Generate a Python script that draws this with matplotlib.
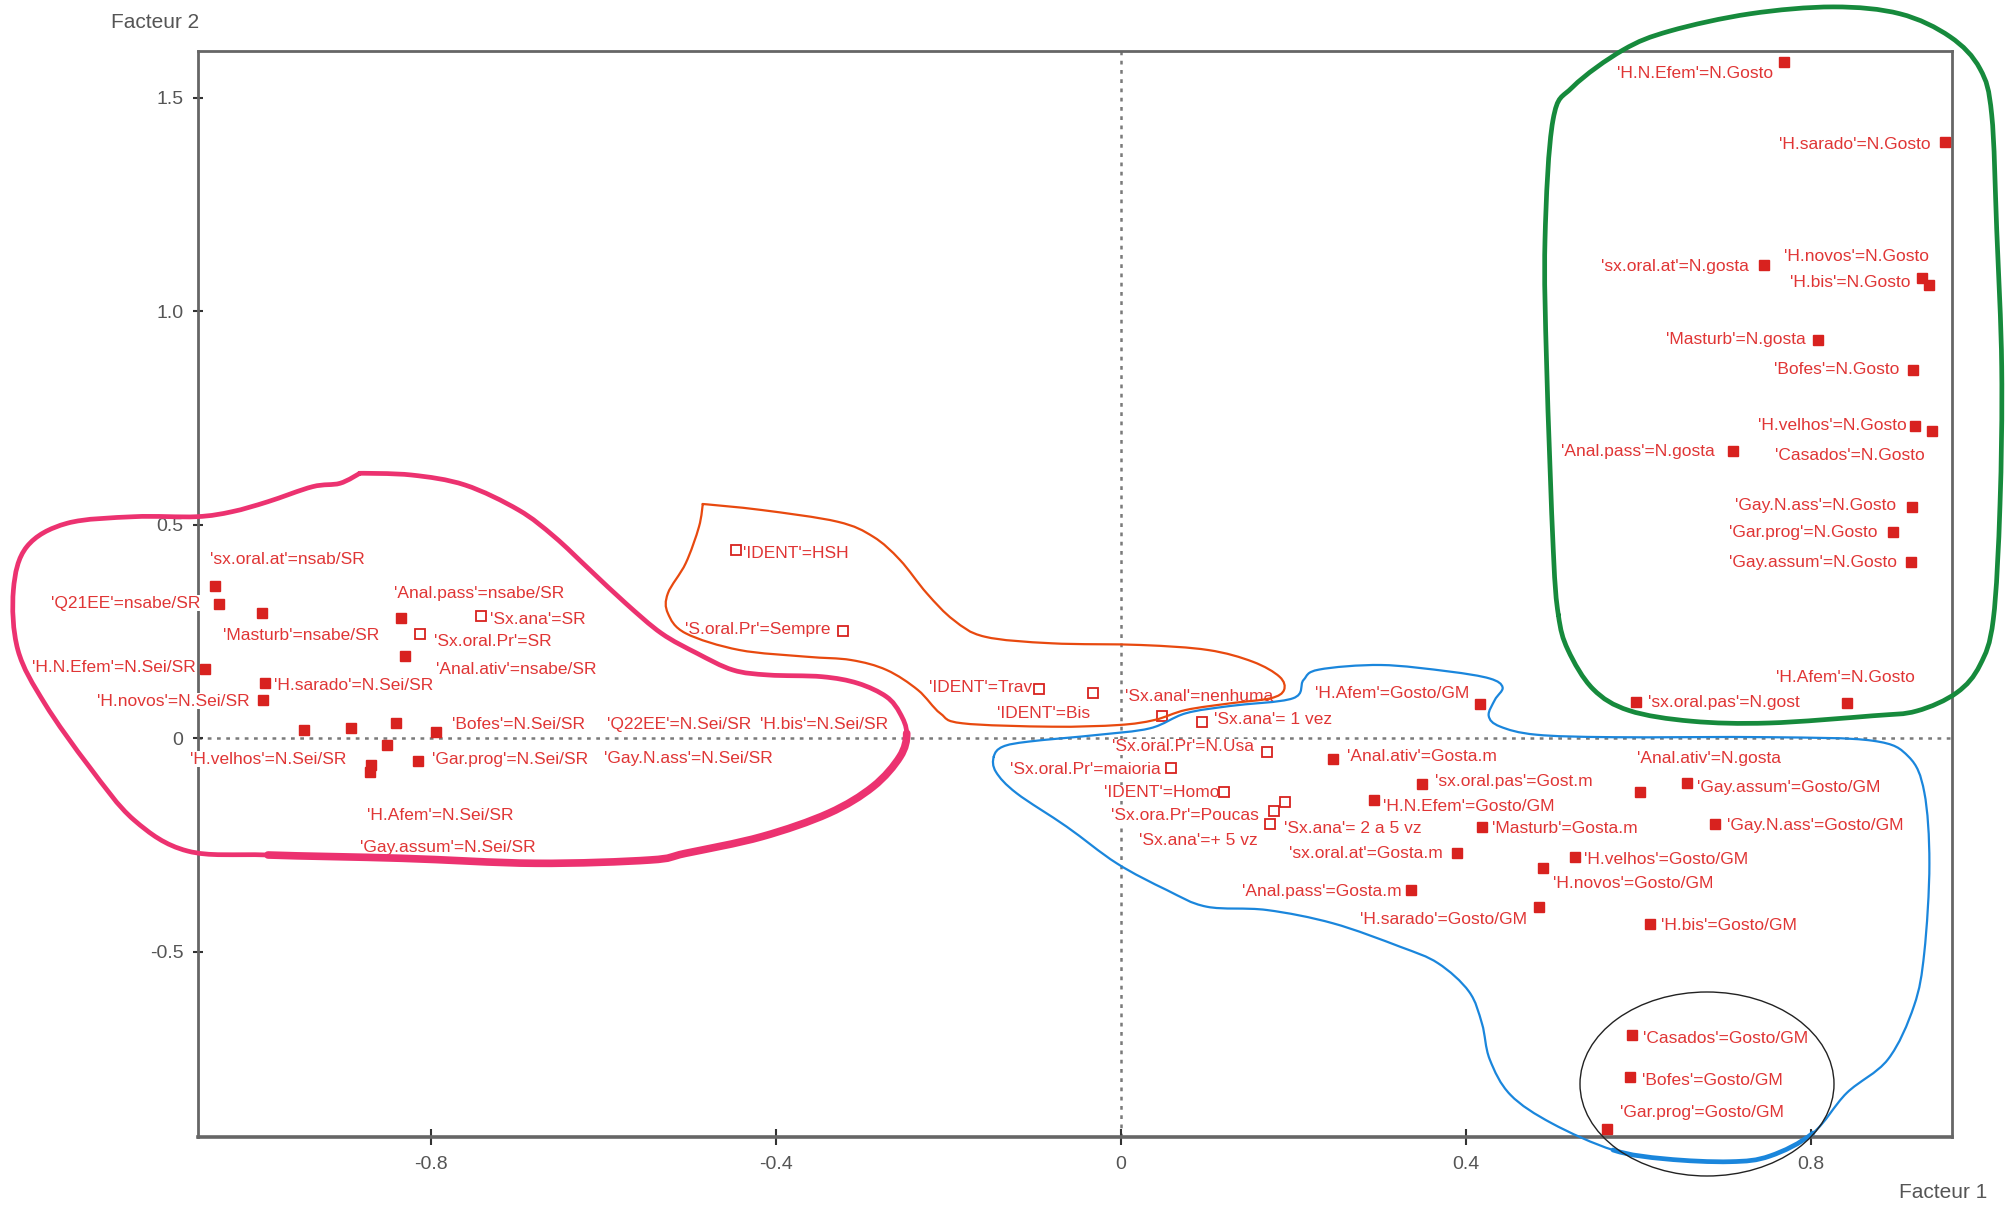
import numpy as np
import matplotlib
matplotlib.use("Agg")
import matplotlib.pyplot as plt
from matplotlib.path import Path
from matplotlib.patches import PathPatch, Ellipse

plt.rcParams["font.family"] = ["Liberation Sans", "DejaVu Sans"]
plt.rcParams["axes.unicode_minus"] = False

W, H = 2011, 1208

# modalities (label, factor 1, factor 2, supplementary = open square)
labels = [
    "'sx.oral.at'=nsab/SR", "'Q21EE'=nsabe/SR", "'Masturb'=nsabe/SR",
    "'Anal.pass'=nsabe/SR", "'Anal.ativ'=nsabe/SR", "'H.N.Efem'=N.Sei/SR",
    "'H.sarado'=N.Sei/SR", "'H.novos'=N.Sei/SR", "'H.velhos'=N.Sei/SR",
    "'Q22EE'=N.Sei/SR", "'H.bis'=N.Sei/SR", "'Bofes'=N.Sei/SR",
    "'Gay.N.ass'=N.Sei/SR", "'H.Afem'=N.Sei/SR", "'Gay.assum'=N.Sei/SR",
    "'Gar.prog'=N.Sei/SR",
    "'Sx.ana'=SR", "'Sx.oral.Pr'=SR", "'IDENT'=HSH", "'S.oral.Pr'=Sempre",
    "'IDENT'=Trav", "'IDENT'=Bis", "'Sx.anal'=nenhuma", "'Sx.ana'= 1 vez",
    "'Sx.oral.Pr'=N.Usa", "'Sx.oral.Pr'=maioria", "'IDENT'=Homo",
    "'Sx.ora.Pr'=Poucas", "'Sx.ana'= 2 a 5 vz", "'Sx.ana'=+ 5 vz",
    "'H.Afem'=Gosto/GM", "'Anal.ativ'=Gosta.m", "'sx.oral.pas'=Gost.m",
    "'H.N.Efem'=Gosto/GM", "'Masturb'=Gosta.m", "'sx.oral.at'=Gosta.m",
    "'Anal.pass'=Gosta.m", "'H.velhos'=Gosto/GM", "'H.novos'=Gosto/GM",
    "'H.sarado'=Gosto/GM", "'H.bis'=Gosto/GM", "'Anal.ativ'=N.gosta",
    "'Gay.assum'=Gosto/GM", "'Gay.N.ass'=Gosto/GM", "'Casados'=Gosto/GM",
    "'Bofes'=Gosto/GM", "'Gar.prog'=Gosto/GM",
    "'H.N.Efem'=N.Gosto", "'H.sarado'=N.Gosto", "'sx.oral.at'=N.gosta",
    "'H.novos'=N.Gosto", "'H.bis'=N.Gosto", "'Masturb'=N.gosta",
    "'Bofes'=N.Gosto", "'H.velhos'=N.Gosto", "'Casados'=N.Gosto",
    "'Anal.pass'=N.gosta", "'Gay.N.ass'=N.Gosto", "'Gar.prog'=N.Gosto",
    "'Gay.assum'=N.Gosto", "'sx.oral.pas'=N.gost", "'H.Afem'=N.Gosto",
]
factor1 = [
    -1.051, -1.046, -0.997, -0.835, -0.831, -1.063, -0.993, -0.995, -0.948,
    -0.893, -0.841, -0.795, -0.852, -0.870, -0.871, -0.816,
    -0.743, -0.813, -0.447, -0.322, -0.095, -0.032, 0.047, 0.094,
    0.169, 0.058, 0.119, 0.177, 0.190, 0.173,
    0.416, 0.246, 0.349, 0.294, 0.419, 0.390, 0.336, 0.527, 0.489,
    0.485, 0.614, 0.602, 0.656, 0.689, 0.593, 0.590, 0.564,
    0.769, 0.956, 0.746, 0.929, 0.937, 0.809, 0.919, 0.921, 0.941,
    0.710, 0.918, 0.896, 0.916, 0.597, 0.842,
]
factor2 = [
    0.356, 0.314, 0.292, 0.282, 0.193, 0.162, 0.130, 0.089, 0.019,
    0.023, 0.036, 0.015, -0.016, -0.063, -0.079, -0.053,
    0.286, 0.243, 0.440, 0.251, 0.116, 0.105, 0.052, 0.038,
    -0.032, -0.069, -0.126, -0.171, -0.149, -0.201,
    0.081, -0.049, -0.107, -0.145, -0.207, -0.270, -0.356, -0.279, -0.304,
    -0.396, -0.436, -0.127, -0.104, -0.200, -0.696, -0.794, -0.915,
    1.584, 1.395, 1.107, 1.078, 1.060, 0.933, 0.863, 0.731, 0.720,
    0.673, 0.541, 0.482, 0.412, 0.085, 0.082,
]
supplementary = [False] * 16 + [True] * 14 + [False] * 32

# label placement (pixels from the point)
label_offsets = [
    (72, 27), (-94, 1), (40, -22), (78, 24), (112, -14), (-91, 1), (89, -3),
    (-90, -1), (-36, -29), (328, 4), (428, -2), (83, 7), (302, -14),
    (69, -50), (78, -76), (92, 1),
    (57, -4), (73, -7), (60, -3), (-86, 1), (-59, 1), (-50, -20), (38, 19),
    (71, 2), (-84, 5), (-86, -2), (-62, -1), (-89, -4), (68, -27), (-72, -17),
    (-87, 10), (89, 3), (92, 2), (94, -6), (83, -2), (-91, 0), (-89, -1),
    (91, -2), (91, -16), (-96, -12), (79, -1), (69, 34), (102, -5), (100, -2),
    (93, -3), (83, -3), (95, 16),
    (-89, -12), (-90, -2), (-89, -1), (-65, 21), (-78, 3), (-83, 0), (-77, 0),
    (-83, 0), (-82, -25), (-95, -1), (-97, 2), (-90, 0), (-98, 0), (88, -1),
    (-1, 26),
]

xticks = [-0.8, -0.4, 0, 0.4, 0.8]
xtick_labels = ["-0.8", "-0.4", "0", "0.4", "0.8"]
yticks = [-0.5, 0, 0.5, 1.0, 1.5]
ytick_labels = ["-0.5", "0", "0.5", "1.0", "1.5"]

# hand drawn group outlines (image pixels)
pink_loop = [
    (359.6, 473.3), (340, 483.3), (312.5, 486.7), (267.9, 501.7), (232, 511.7),
    (196.4, 516.7), (134, 516.7), (67, 523.3), (26.8, 546.7), (13.4, 590),
    (17.9, 650), (44.6, 703.3), (89.3, 766.7), (134, 820), (187.5, 851),
    (268, 855), (401.8, 858.3), (535.7, 863.3), (650, 860), (685.7, 853.3),
    (761.6, 836.7), (828.6, 813.3), (873, 786.7), (900, 756.7),
    (906.7, 733.3), (900, 713.3), (886.4, 696.7), (857.9, 683.3),
    (822, 676.7), (768.6, 675), (732.9, 670), (697, 653.3), (661.4, 633.3),
    (625.7, 603.3), (590, 570), (554.3, 536.7), (518.6, 510), (465, 485),
    (411.4, 475),
]
orange_loop = [
    (702.7, 504), (761.6, 510), (837.5, 521.7), (873.2, 536.7), (900, 560),
    (926.8, 593.3), (953.6, 620), (984.8, 636.7), (1051.8, 643.3),
    (1141, 645), (1208, 650), (1252.7, 661.7), (1279.5, 676.7), (1284, 690),
    (1270.5, 698.3), (1230.4, 703.3), (1185.7, 710), (1154.5, 720),
    (1118.75, 725), (1051.8, 726.7), (962.5, 723.3), (940.2, 713.3),
    (917.9, 690), (886.6, 670), (850.9, 660), (806.25, 656.7), (739.3, 650),
    (685.7, 633.3), (667.9, 613.3), (667.9, 593.3), (685.7, 563.3),
    (699, 526.7),
]
blue_loop = [
    (993.75, 756.7), (1002.7, 746.7), (1029.5, 741.5), (1096.4, 735),
    (1150, 728.3), (1185.7, 713.3), (1230, 706), (1292.9, 698.3),
    (1303.5, 680), (1319, 669.6), (1381, 665), (1448.3, 671.4),
    (1489.7, 678.5), (1502.6, 687.4), (1494.9, 699.8), (1488.7, 715.8),
    (1500, 726.5), (1536.3, 734.7), (1613.9, 737.2), (1769, 737.2),
    (1872.5, 740.7), (1908.7, 756.8), (1924.3, 792.3), (1929.4, 863.5),
    (1924.3, 952.5), (1914, 1005.9), (1888, 1059.3), (1846.7, 1093),
    (1813, 1133), (1770, 1156), (1730, 1161.7), (1665.6, 1158.9),
    (1613, 1150), (1551.8, 1123.3), (1510.4, 1094.8), (1489.7, 1059.3),
    (1482, 1023.7), (1469, 991.6), (1438, 963.2), (1400, 946.7),
    (1333, 923.3), (1266.7, 910), (1206.7, 906.7), (1166.7, 890),
    (1116.7, 863.3), (1066.7, 826.7), (1016.7, 793.3), (996, 772),
]
green_loop = [
    (1558.3, 614.7), (1553.3, 550.5), (1546.7, 367), (1545, 240),
    (1553, 120), (1573, 86.7), (1623, 50), (1670, 31), (1750, 13.8),
    (1833.3, 6.9), (1900, 13.8), (1950, 36.7), (1980, 68.8), (1991.7, 114.7),
    (1996.7, 229.4), (2001.7, 367), (2000, 504.6), (1993.3, 619.3),
    (1980, 665), (1956.7, 692.7), (1916.7, 711), (1872.5, 715.8),
    (1769, 723), (1691.5, 721.2), (1629, 710.5), (1593, 689), (1568, 650),
]


def loop_path(points, corners=(), seg=None):
    # closed Catmull-Rom outline through the drawn points, as Bezier segments;
    # seg=(a, b) keeps only the stretch from point a to point b
    p = np.array([(x / W, 1 - y / H) for x, y in points])
    n = len(p)
    a, b = seg if seg else (0, n)
    verts = [p[a % n]]
    codes = [Path.MOVETO]
    for i in range(a, b):
        i0, i1, i2, i3 = (i - 1) % n, i % n, (i + 1) % n, (i + 2) % n
        c1 = p[i1] if i1 in corners else p[i1] + (p[i2] - p[i0]) / 6
        c2 = p[i2] if i2 in corners else p[i2] - (p[i3] - p[i1]) / 6
        verts += [c1, c2, p[i2]]
        codes += [Path.CURVE4] * 3
    return Path(verts, codes)


def outline(path, color, lw):
    fig.add_artist(PathPatch(path, fill=False, ec=color, lw=lw,
                             capstyle="round", joinstyle="round",
                             transform=fig.transFigure))


fig = plt.figure(figsize=(W / 100, H / 100), dpi=100)
ax = fig.add_axes([198 / W, 1 - 1137 / H, (1952 - 198) / W, (1137 - 51) / H])

ax.axhline(0, color="#7a7a7a", lw=1.8, linestyle=(0, (1.5, 2.2)), zorder=1)
ax.axvline(0, color="#7a7a7a", lw=1.8, linestyle=(0, (1.5, 2.2)), zorder=1)

red = "#d8221f"
for lab, fx, fy, sup, off in zip(labels, factor1, factor2, supplementary, label_offsets):
    if sup:
        ax.plot(fx, fy, "s", ms=6.5, mfc="white", mec=red, mew=1.3, zorder=4)
    else:
        ax.plot(fx, fy, "s", ms=7, mfc=red, mec=red, zorder=4)
    ax.annotate(lab, (fx, fy), xytext=(off[0], off[1]), textcoords="offset pixels",
                ha="center", va="center", fontsize=12.5, color="#e03535", zorder=3,
                bbox=dict(facecolor="white", edgecolor="none", pad=0.5))

ax.set_xlim(-1.0708, 0.964)
ax.set_ylim(-0.934, 1.609)
ax.set_xticks(xticks)
ax.set_xticklabels(xtick_labels)
ax.set_yticks(yticks)
ax.set_yticklabels(ytick_labels)
ax.tick_params(axis="x", direction="inout", length=11, width=1.5, color="#333333",
               labelsize=14, labelcolor="#555555", pad=8)
ax.tick_params(axis="y", direction="inout", length=7, width=1.5, color="#333333",
               labelsize=14, labelcolor="#555555", pad=7)
for side in ax.spines:
    ax.spines[side].set_color("#666666")
    ax.spines[side].set_linewidth(2)
ax.spines["bottom"].set_linewidth(2.6)

fig.text(155 / W, 1 - 23 / H, "Facteur 2", ha="center", va="center",
         fontsize=15, color="#555555")
fig.text(1943 / W, 1 - 1193 / H, "Facteur 1", ha="center", va="center",
         fontsize=15, color="#555555")

pink, blue = "#ec3270", "#1a86dc"
outline(loop_path(pink_loop, corners=(0,)), pink, 3.4)
outline(loop_path(pink_loop, seg=(15, 24)), pink, 5.5)
outline(loop_path(orange_loop, corners=(0,)), "#e8490f", 1.6)
outline(loop_path(blue_loop), blue, 1.6)
outline(loop_path(blue_loop, seg=(28, 32)), blue, 3.4)
outline(loop_path(green_loop), "#168a3c", 3.4)
fig.add_artist(Ellipse((1707 / W, 1 - 1084 / H), 254 / W, 184 / H, fill=False,
                       ec="#222222", lw=1.0, transform=fig.transFigure))

fig.savefig("out.png", dpi=100, facecolor="white")
